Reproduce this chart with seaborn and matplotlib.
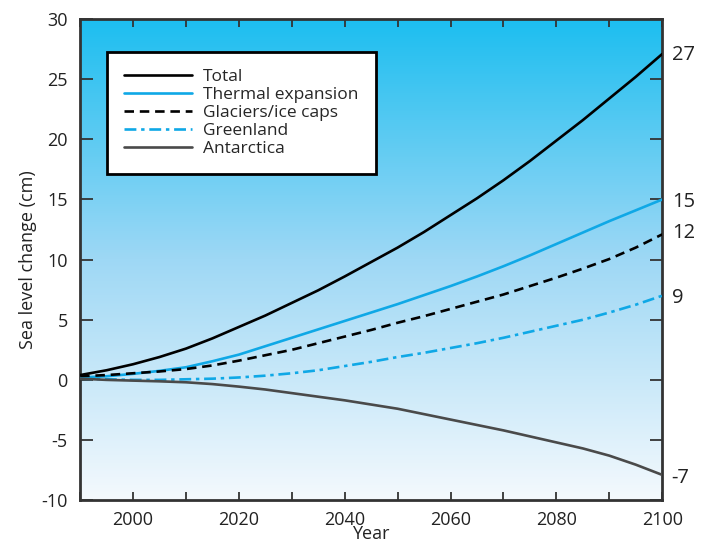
import numpy as np
import pandas as pd
import matplotlib.pyplot as plt
import seaborn as sns
from matplotlib.colors import LinearSegmentedColormap
from matplotlib.ticker import MultipleLocator

# --- Data (every 5 years) ---
years = list(range(1990, 2101, 5))
total = [0.4, 0.8, 1.3, 1.9, 2.6, 3.45, 4.4, 5.35, 6.4, 7.45, 8.6, 9.8, 11.0,
         12.3, 13.7, 15.1, 16.6, 18.2, 19.9, 21.6, 23.4, 25.2, 27.1]
thermal = [0.2, 0.3, 0.5, 0.75, 1.05, 1.55, 2.1, 2.8, 3.5, 4.2, 4.9, 5.6, 6.3,
           7.05, 7.8, 8.6, 9.45, 10.35, 11.3, 12.25, 13.2, 14.1, 15.0]
glaciers = [0.3, 0.4, 0.55, 0.7, 0.9, 1.2, 1.6, 2.05, 2.5, 3.05, 3.6, 4.15, 4.75,
            5.3, 5.9, 6.5, 7.1, 7.8, 8.5, 9.25, 10.05, 11.0, 12.1]
greenland = [0.1, 0.05, 0.0, 0.0, 0.05, 0.1, 0.2, 0.35, 0.55, 0.8, 1.15, 1.5, 1.9,
             2.25, 2.65, 3.05, 3.5, 4.0, 4.5, 5.0, 5.6, 6.25, 7.0]
antarctica = [0.1, 0.0, -0.06, -0.12, -0.2, -0.35, -0.56, -0.8, -1.1, -1.4, -1.7,
              -2.05, -2.4, -2.85, -3.3, -3.75, -4.2, -4.7, -5.2, -5.7, -6.3, -7.05, -7.9]

series_names = ['Total', 'Thermal expansion', 'Glaciers/ice caps', 'Greenland', 'Antarctica']
end_labels = ['27', '15', '12', '9', '-7']
end_label_y = [27.0, 14.8, 12.2, 6.8, -8.2]

df = pd.DataFrame({'year': years, 'Total': total, 'Thermal expansion': thermal,
                   'Glaciers/ice caps': glaciers, 'Greenland': greenland,
                   'Antarctica': antarctica})
long_df = df.melt(id_vars='year', var_name='component', value_name='change')

# --- Styling ---
sns.set_theme(style="ticks")
plt.rcParams['font.family'] = ['Open Sans', 'DejaVu Sans']
plt.rcParams['axes.unicode_minus'] = False

cyan = '#0FA8E6'
styles = {
    'Total': dict(color='black', ls='-'),
    'Thermal expansion': dict(color=cyan, ls='-'),
    'Glaciers/ice caps': dict(color='black', ls=(0, (3.6, 2.2))),
    'Greenland': dict(color=cyan, ls=(0, (4.5, 1.8, 1.3, 1.8))),
    'Antarctica': dict(color='#4a4a4a', ls='-'),
}

fig = plt.figure(figsize=(7.09, 5.46), dpi=100)
ax = fig.add_axes([0.113, 0.084, 0.821, 0.881])

# gradient background
grad_cmap = LinearSegmentedColormap.from_list('sky', ['#F4F9FD', '#9ED8F5', '#1CBEF0'])
ax.imshow(np.linspace(0, 1, 256).reshape(-1, 1), cmap=grad_cmap, origin='lower',
          extent=[1990, 2100, -10, 30], aspect='auto', zorder=0)

for name in series_names:
    sub = long_df[long_df['component'] == name]
    st = styles[name]
    sns.lineplot(data=sub, x='year', y='change', ax=ax, color=st['color'],
                 linestyle=st['ls'], linewidth=1.9, label=name, zorder=3)

ax.set_xlim(1990, 2100)
ax.set_ylim(-10, 30)
ax.set_xticks([2000, 2020, 2040, 2060, 2080, 2100])
ax.xaxis.set_minor_locator(MultipleLocator(10))
ax.yaxis.set_major_locator(MultipleLocator(5))
ax.tick_params(axis='both', which='both', direction='in', top=True, right=True,
               labelsize=13, colors='#333333', labelcolor='#222222', width=1.3)
ax.tick_params(axis='y', which='major', length=9, pad=9)
ax.tick_params(axis='x', which='both', length=6, pad=8)
for sp in ax.spines.values():
    sp.set_linewidth(2)
    sp.set_color('#333333')

ax.set_xlabel('Year', fontsize=13, color='#222222', labelpad=-3)
ax.set_ylabel('Sea level change (cm)', fontsize=13, color='#222222', labelpad=3)

# end labels to the right of the plot
for lab, yv in zip(end_labels, end_label_y):
    ax.text(2101.8, yv, lab, fontsize=14.5, color='#222222', va='center', ha='left',
            clip_on=False)

leg = ax.legend(loc='upper left', bbox_to_anchor=(0.059, 0.916), fontsize=12.5,
                frameon=True, fancybox=False, framealpha=1, handlelength=3.9,
                labelspacing=0.1, borderpad=0.55, borderaxespad=0,
                handletextpad=0.65)
leg.get_frame().set_edgecolor('black')
leg.get_frame().set_linewidth(2)
leg.get_frame().set_boxstyle('square', pad=0.45)

fig.savefig('out.png', dpi=100)
